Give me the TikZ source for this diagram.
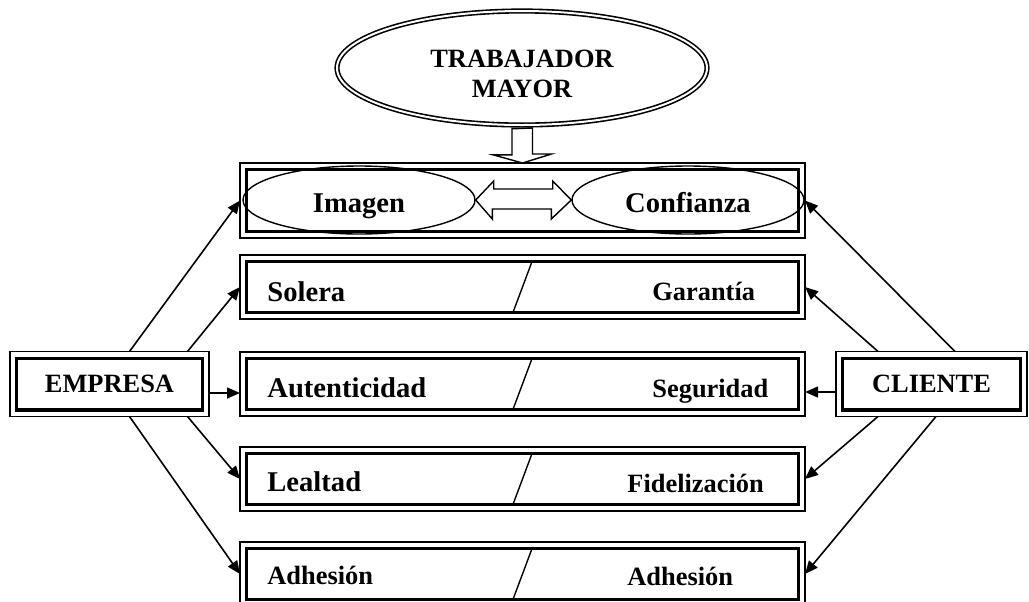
\documentclass[tikz,border=0pt]{standalone}
\usepackage{fontspec}
\setmainfont{Liberation Serif}
\usetikzlibrary{shapes.geometric,arrows.meta}

\begin{document}
\begin{tikzpicture}[x=0.5pt,y=-0.5pt,>={Triangle[length=6.5pt,width=5.5pt]}]
	\tikzstyle{big}=[font=\fontsize{14.3}{16}\selectfont\bfseries, inner sep=0pt]
	\tikzstyle{sml}=[font=\fontsize{13.2}{15}\selectfont\bfseries, inner sep=0pt]
	\tikzstyle{dbox}=[rectangle, draw, line width=0.9pt, inner sep=0pt, outer sep=0pt, path picture={\draw[line width=1.6pt] ([shift={(3.3pt,-3.3pt)}]path picture bounding box.north west) rectangle ([shift={(-3.3pt,3.3pt)}]path picture bounding box.south east);}]
	\tikzstyle{row}=[dbox, minimum width=282.5pt, minimum height=32pt]
	\tikzstyle{oval}=[ellipse, draw, line width=0.7pt, inner sep=0pt, minimum width=116pt, minimum height=34pt, text height=12pt, text depth=0pt]

	\useasboundingbox (0,0) rectangle (1029,601);

	% trabajador y fila de arriba
	\node[ellipse, draw, double, line width=0.8pt, double distance=1pt, minimum width=185pt, minimum height=57pt] (trab) at (522,68) {};
	\node[sml, align=center, yshift=-3pt] (trabT) at (trab.center) {TRABAJADOR\\MAYOR};
	\node[dbox, minimum width=282.5pt, minimum height=37.5pt] (bImg) at (522.5,200.5) {};
	\node[oval, big] (img) at (359,200) {Imagen};
	\node[oval, big] (conf) at (688,200) {Confianza};

	% filas
	\node[row] (bSol) at (522.5,287) {};
	\node[row] (bAut) at (522.5,384) {};
	\node[row] (bLea) at (522.5,479) {};
	\node[row] (bAdh) at (522.5,574) {};

	\node[big, anchor=base west] (sol) at (267,301) {Solera};
	\node[sml, anchor=base west] (gar) at (652,300) {Garantía};
	\node[big, anchor=base west] (aut) at (267,397) {Autenticidad};
	\node[sml, anchor=base west] (seg) at (652,397) {Seguridad};
	\node[big, anchor=base west] (lea) at (267,491) {Lealtad};
	\node[sml, anchor=base west] (fid) at (627,492) {Fidelización};
	\node[sml, anchor=base west] (adhE) at (267,584) {Adhesión};
	\node[sml, anchor=base west] (adhC) at (627,585) {Adhesión};

	\foreach \b in {bSol,bAut,bLea,bAdh}
		\draw[line width=0.7pt] ([shift={(-4.75pt,3.3pt)}]\b.south) -- ([shift={(4.75pt,-3.3pt)}]\b.north);

	% empresa y cliente
	\node[dbox, sml, minimum width=99.5pt, minimum height=32.5pt] (emp) at (109.5,384) {EMPRESA};
	\node[dbox, sml, minimum width=95.5pt, minimum height=32.5pt] (cli) at (931.5,384) {CLIENTE};

	% flechas gruesas
	\draw[line width=0.7pt, fill=white] (trab.south) ++(-10,3) -- ++(0,26) -- ++(-19,0) -- (bImg.north) -- ++(29,-9) -- ++(-19,0) -- ++(0,-26) -- cycle;
	\draw[line width=0.7pt, fill=white] (img.east) -- ++(18,-19) -- ++(0,8) -- ++(59,0) -- ++(0,-8) -- (conf.west) -- ++(-20,19) -- ++(0,-10) -- ++(-59,0) -- ++(0,10) -- cycle;

	\foreach \s/\a/\to in {10pt/north/bImg.west,39pt/north/bSol.west,39pt/south/bLea.west,10pt/south/bAdh.west}
		\draw[->, line width=0.8pt] ([xshift=\s]emp.\a) -- (\to);
	\foreach \s/\a/\to in {11.75pt/north/bImg.east,-26.75pt/north/bSol.east,-26.75pt/south/bLea.east,2.25pt/south/bAdh.east}
		\draw[->, line width=0.8pt] ([xshift=\s]cli.\a) -- (\to);
	\draw[->, line width=0.8pt] ([yshift=-4.5pt]emp.east) -- ([yshift=-4.5pt]bAut.west);
	\draw[->, line width=0.8pt] ([yshift=-4pt]cli.west) -- ([yshift=-4pt]bAut.east);
\end{tikzpicture}
\end{document}
